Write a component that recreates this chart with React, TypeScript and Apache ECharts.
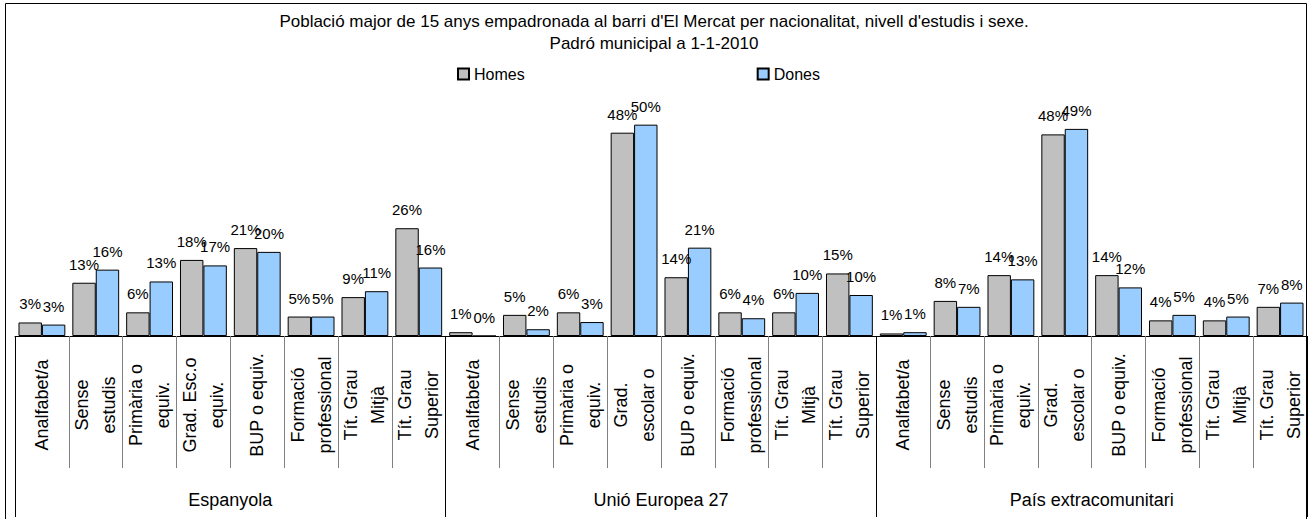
import React, { useEffect, useRef } from 'react';
import * as echarts from 'echarts';

const groups = ['Espanyola', 'Unió Europea 27', 'País extracomunitari'];
const levelsEsp = ['Analfabet/a', 'Sense\nestudis', 'Primària o\nequiv.', 'Grad. Esc.o\nequiv.', 'BUP o equiv.', 'Formació\nprofessional', 'Tít. Grau\nMitjà', 'Tít. Grau\nSuperior'];
const levelsOther = ['Analfabet/a', 'Sense\nestudis', 'Primària o\nequiv.', 'Grad.\nescolar o', 'BUP o equiv.', 'Formació\nprofessional', 'Tít. Grau\nMitjà', 'Tít. Grau\nSuperior'];

const homesEsp = [3.2, 12.6, 5.6, 18.0, 20.8, 4.6, 9.2, 25.5];
const donesEsp = [2.7, 15.7, 12.9, 16.7, 19.9, 4.6, 10.6, 16.2];
const homesUE = [0.9, 5.0, 5.6, 48.1, 13.9, 5.6, 5.6, 14.8];
const donesUE = [0, 1.6, 3.3, 50.0, 20.9, 4.2, 10.2, 9.7];
const homesExt = [0.6, 8.3, 14.4, 47.7, 14.4, 3.7, 3.7, 6.9];
const donesExt = [0.9, 6.9, 13.4, 49.0, 11.5, 5.0, 4.6, 7.9];

const FONT = 'Arial, "Liberation Sans", sans-serif';

export default function App() {
  const ref = useRef<HTMLDivElement>(null);
  useEffect(() => {
    if (!ref.current) return;
    const chart = echarts.init(ref.current, null, { renderer: 'svg' });
    const categories = [
      ...levelsEsp.map((l, i) => `0|${i}|${l}`),
      ...levelsOther.map((l, i) => `1|${i}|${l}`),
      ...levelsOther.map((l, i) => `2|${i}|${l}`),
    ];
    const homes = [...homesEsp, ...homesUE, ...homesExt];
    const dones = [...donesEsp, ...donesUE, ...donesExt];
    const labelCfg = {
      show: true,
      position: 'top',
      distance: 11,
      fontSize: 15,
      fontFamily: FONT,
      color: '#000',
      formatter: (p: any) => Math.round(p.value) + '%',
    };
    chart.setOption({
      animation: false,
      title: {
        text: "Població major de 15 anys empadronada al barri d'El Mercat per nacionalitat, nivell d'estudis i sexe.",
        subtext: 'Padró municipal a 1-1-2010',
        left: 'center',
        top: 8,
        itemGap: 5,
        textStyle: { fontSize: 17, fontWeight: 'normal', color: '#000', fontFamily: FONT },
        subtextStyle: { fontSize: 17, color: '#000', fontFamily: FONT },
      },
      legend: {
        data: ['Homes', 'Dones'],
        left: 452,
        top: 61,
        itemWidth: 11,
        itemHeight: 11,
        itemGap: 232,
        icon: 'rect',
        textStyle: { fontSize: 16, color: '#000', fontFamily: FONT },
      },
      grid: { left: 15, right: 1, top: 82.4, bottom: 183, containLabel: false },
      xAxis: [
        {
          type: 'category',
          data: categories,
          position: 'bottom',
          axisLine: { show: true, lineStyle: { color: '#000', width: 1 } },
          axisTick: { show: true, interval: 0, length: 132, lineStyle: { color: '#808080' } },
          axisLabel: {
            interval: 0,
            rotate: 90,
            align: 'center',
            verticalAlign: 'middle',
            margin: 69,
            lineHeight: 27,
            fontSize: 18,
            fontFamily: FONT,
            color: '#000',
            hideOverlap: false,
            formatter: (v: string) => v.split('|')[2],
          },
        },
        {
          type: 'category',
          data: groups,
          position: 'bottom',
          axisLine: { show: false },
          axisTick: { show: true, interval: 0, length: 181, lineStyle: { color: '#000' } },
          axisLabel: {
            interval: 0,
            margin: 164,
            verticalAlign: 'middle',
            fontSize: 18,
            fontFamily: FONT,
            color: '#000',
          },
        },
      ],
      yAxis: {
        type: 'value',
        min: 0,
        max: 60,
        show: false,
        splitLine: { show: false },
      },
      series: [
        {
          name: 'Homes',
          type: 'bar',
          xAxisIndex: 0,
          data: homes,
          barGap: '0%',
          barCategoryGap: '13%',
          itemStyle: { color: '#C0C0C0', borderColor: '#000', borderWidth: 1 },
          label: labelCfg,
        },
        {
          name: 'Dones',
          type: 'bar',
          xAxisIndex: 0,
          data: dones,
          barGap: '0%',
          barCategoryGap: '13%',
          itemStyle: { color: '#99CCFF', borderColor: '#000', borderWidth: 1 },
          label: labelCfg,
        },
      ],
      graphic: [
        {
          type: 'rect',
          shape: { x: 5.5, y: 3.5, width: 1301, height: 530 },
          style: { fill: 'none', stroke: '#000', lineWidth: 1 },
          silent: true,
        },
      ],
    });
    return () => chart.dispose();
  }, []);
  return (
    <div
      ref={ref}
      style={{ position: 'fixed', left: 0, top: 0, width: 1308, height: 519, background: '#fff' }}
    />
  );
}
